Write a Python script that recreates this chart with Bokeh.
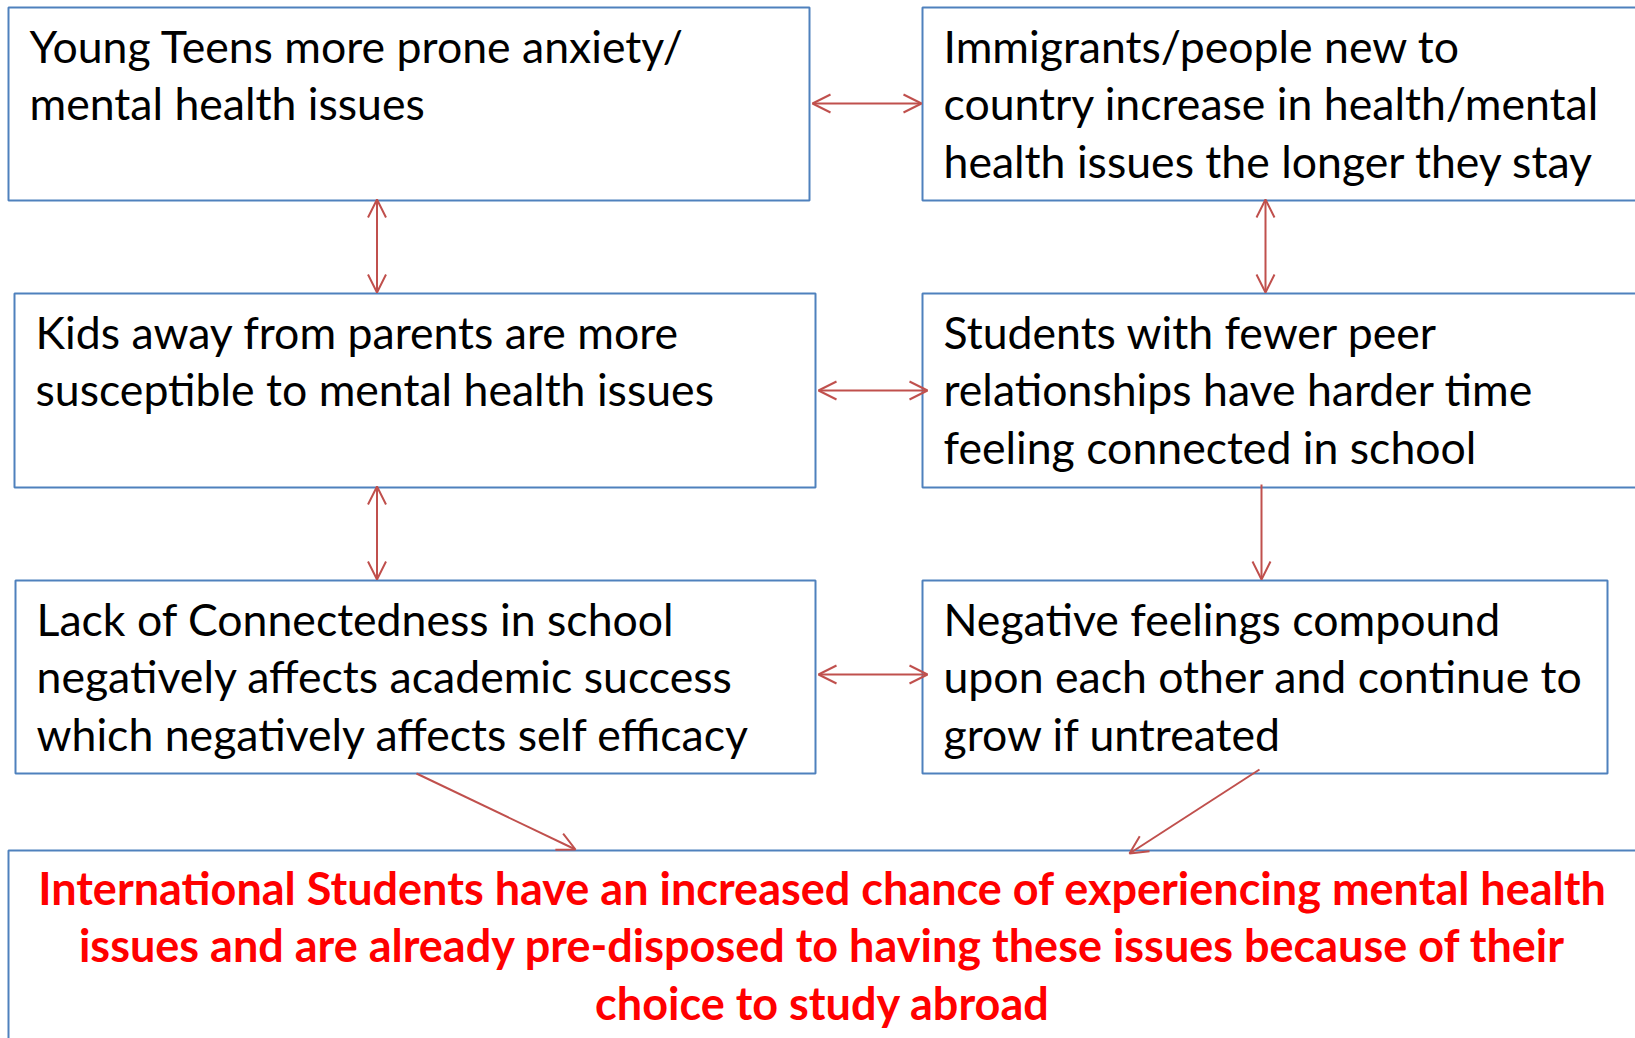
from bokeh.plotting import figure
from bokeh.models import Range1d, Arrow, OpenHead
from bokeh.core.properties import value
from bokeh.embed import file_html
from bokeh.resources import INLINE

# ---- content ----
box_texts = [
    ["Young Teens more prone anxiety/", "mental health issues"],
    ["Immigrants/people new to", "country increase in health/mental", "health issues the longer they stay"],
    ["Kids away from parents are more", "susceptible to mental health issues"],
    ["Students with fewer peer", "relationships have harder time", "feeling connected in school"],
    ["Lack of Connectedness in school", "negatively affects academic success", "which negatively affects self efficacy"],
    ["Negative feelings compound", "upon each other and continue to", "grow if untreated"],
]
conclusion_lines = [
    "International Students have an increased chance of experiencing mental health",
    "issues and are already pre-disposed to having these issues because of their",
    "choice to study abroad",
]

# ---- layout (picture pixel coordinates) ----
box_left = [8, 922, 14, 922, 15, 922, 8]
box_right = [809, 1700, 815, 1700, 815, 1607, 1700]
box_top = [7, 7, 293, 293, 580, 580, 850]
box_bottom = [200, 200, 487, 487, 773, 773, 1200]

LINE_H = 57.5
PAD_X = 21
BASE_OFF = 37.5

# arrows: x_start, y_start, x_end, y_end, double-headed?
arrow_x0 = [812, 818, 818, 376.5, 1265, 376.5, 1261, 416, 1259]
arrow_y0 = [103, 390, 674, 199, 199, 486, 484, 773, 769]
arrow_x1 = [921, 927, 927, 376.5, 1265, 376.5, 1261, 575, 1129]
arrow_y1 = [103, 390, 674, 292, 292, 579, 579, 849, 853]
arrow_both = [True, True, True, True, True, True, False, False, False]

BLUE = "#4F81BD"
RED = "#C0504D"

W, H = 1635, 1038
p = figure(width=W, height=H, x_range=Range1d(0, W), y_range=Range1d(H, 0),
           output_backend="svg", toolbar_location=None, min_border=0)
p.axis.visible = False
p.grid.visible = False
p.outline_line_color = None
p.background_fill_color = "white"

p.quad(left=box_left, right=box_right, top=box_top, bottom=box_bottom,
       fill_color="white", line_color=BLUE, line_width=2)

tx, ty, tt = [], [], []
for i, lines in enumerate(box_texts):
    for j, line in enumerate(lines):
        tx.append(box_left[i] + PAD_X)
        ty.append(box_top[i] + BASE_OFF + j * LINE_H)
        tt.append(line)
p.text(x=tx, y=ty, text=tt, text_font=value("Lato"), text_font_size=value("44.6px"),
       text_baseline="alphabetic", text_align="left", text_color="black")

cx = [822] * len(conclusion_lines)
cy = [box_top[6] + 37 + j * LINE_H for j in range(len(conclusion_lines))]
p.text(x=cx, y=cy, text=conclusion_lines, text_font=value("Lato"), text_font_size=value("45px"),
       text_font_style="bold", text_baseline="alphabetic", text_align="center", text_color="#FF0000")

for x0, y0, x1, y1, both in zip(arrow_x0, arrow_y0, arrow_x1, arrow_y1, arrow_both):
    start = OpenHead(size=18, line_color=RED, line_width=2) if both else None
    end = OpenHead(size=18, line_color=RED, line_width=2)
    p.add_layout(Arrow(x_start=x0, y_start=y0, x_end=x1, y_end=y1, start=start, end=end,
                       line_color=RED, line_width=2))

open("out.html", "w").write(file_html(p, INLINE))
